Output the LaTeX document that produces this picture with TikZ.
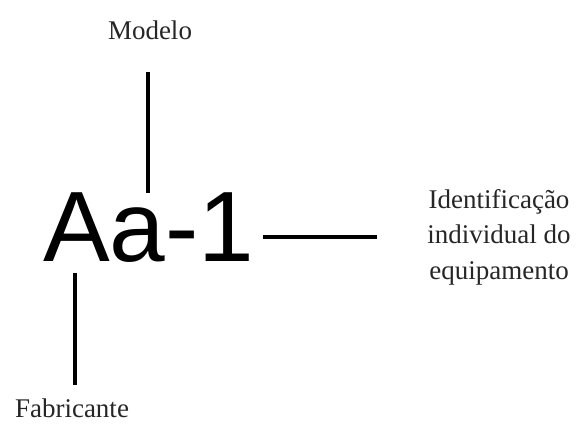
\documentclass[tikz,border=0pt]{standalone}
\usepackage{fontspec}
\setmainfont{Liberation Serif}
\newfontfamily\arialfont{Liberation Sans}
\begin{document}
\begin{tikzpicture}[x=1pt,y=-1pt,
  lbl/.style={font=\fontsize{27}{35.5}\selectfont, text=black!85, inner sep=0pt},
  leader/.style={line width=3.5pt, black}]
\useasboundingbox (0,0) rectangle (576,438);
\node[inner sep=0pt, anchor=base west, font=\arialfont\fontsize{100}{100}\selectfont] (code) at (43,262) {Aa-1};
\node[lbl] (modelo) at (150,30) {Modelo};
\node[lbl] (fab) at (72,408) {Fabricante};
\node[lbl, align=center] (ident) at (499,237) {Identificação\\individual do\\equipamento};
\coordinate (t1) at (148,72);
\coordinate (t2) at (148,193);
\coordinate (b1) at (75,273);
\coordinate (b2) at (75,385);
\coordinate (h1) at (263,237);
\coordinate (h2) at (377,237);
\draw[leader] (t1) -- (t2);
\draw[leader] (b1) -- (b2);
\draw[leader] (h1) -- (h2);
\end{tikzpicture}
\end{document}
